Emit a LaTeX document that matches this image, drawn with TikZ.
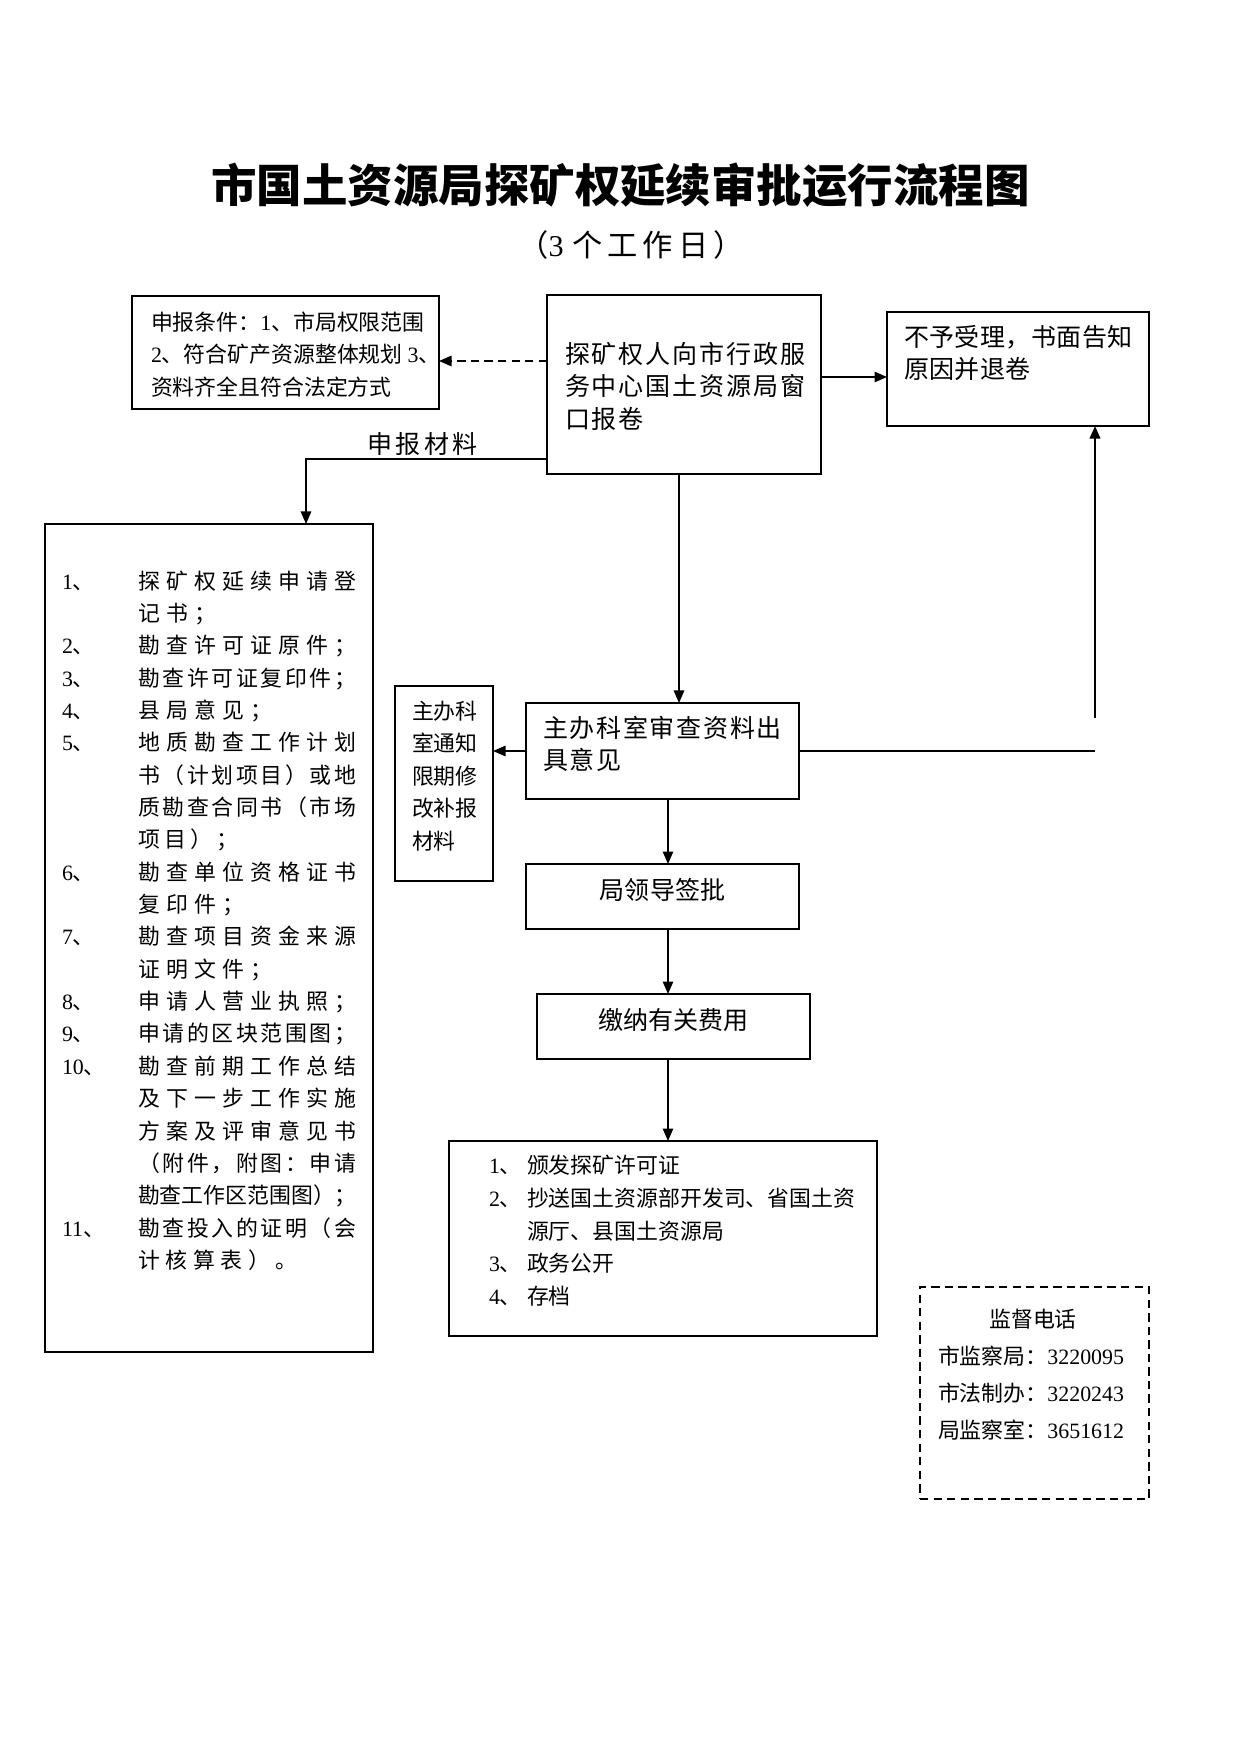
\documentclass[tikz,border=0pt]{standalone}
\usepackage{fontspec}
\setmainfont{Noto Sans CJK SC}
\newfontfamily\latin{Liberation Serif}
\usetikzlibrary{arrows.meta,calc}
\newcommand\dg[1]{{\latin #1}}
\newcommand\lsp[2]{\def\lspitch{#1}\lspA#2\relax}
\def\lspA#1{\ifx\relax#1\else\makebox[\lspitch][l]{#1}\expandafter\lspA\fi}
\newlength\colw \setlength\colw{104.6pt}
\newcommand\jst[1]{\makebox[\colw][s]{\jB#1\relax}}
\def\jB#1{#1\jC}
\def\jC#1{\ifx\relax#1\else\hfil#1\expandafter\jC\fi}
\newcommand\bx[6][]{\node[box,#1,anchor=north west,minimum width={(#5-#3)*0.4797pt},minimum height={(#6-#4)*0.4797pt}] (#2) at (#3,#4) {};}
\tikzset{
 box/.style={draw,line width=0.9pt,inner sep=0pt,outer sep=0pt},
 txt/.style={anchor=base west,inner sep=0pt,outer sep=0pt,font=\fontsize{10.5}{12}\selectfont},
 big/.style={anchor=base west,inner sep=0pt,outer sep=0pt,font=\fontsize{12}{14}\selectfont},
 conn/.style={line width=0.75pt},
 arr/.style={conn,-{Triangle[length=6pt,width=5pt]}},
}
\begin{document}
\begin{tikzpicture}[x=0.4797pt,y=-0.4797pt]
\fill[white] (0,0) rectangle (1241,1754);
\useasboundingbox (0,0) rectangle (1241,1754);

% title
\node[inner sep=0pt,font=\fontsize{21.8}{24}\selectfont\bfseries] (title) at (620.5,185) {市国土资源局探矿权延续审批运行流程图};
\node[inner sep=0pt,anchor=base west,font=\fontsize{14.5}{16}\selectfont] (sub) at (518,256) {（\dg{3}\hspace{4pt}\lsp{17pt}{个工作日}）};

% boxes
\bx{cond}{132}{296}{439}{409}
\bx{main}{547}{295}{821}{474}
\bx{rej}{887}{312}{1149}{426}
\bx{mat}{45}{524}{373}{1352}
\bx{note}{395}{686}{493}{881}
\bx{rev}{526}{703}{799}{799}
\bx{lead}{526}{864}{799}{929}
\bx{fee}{537}{994}{810}{1059}
\bx{fin}{449}{1141}{877}{1336}
\bx[dash pattern=on 4pt off 2.5pt,line width=0.8pt]{sup}{920}{1287}{1149}{1499}

% condition box text
\node[txt] (c1) at (151,330) {申报条件：\dg{1}、市局权限范围};
\node[txt] (c2) at (151,362.5) {\dg{2}、符合矿产资源整体规划 \dg{3}、};
\node[txt] (c3) at (151,395) {资料齐全且符合法定方式};

% main box text
\node[big] (m1) at (565,363) {\lsp{12.95pt}{探矿权人向市行政服}};
\node[big] (m2) at (565,395.5) {\lsp{12.95pt}{务中心国土资源局窗}};
\node[big] (m3) at (565,428) {\lsp{12.95pt}{口报卷}};

% reject box text
\node[big] (r1) at (904,346.5) {\lsp{12.2pt}{不予受理，书面告知}};
\node[big] (r2) at (904,378.5) {\lsp{12.2pt}{原因并退卷}};

% label
\node[big] (lab) at (367,453) {\lsp{13.75pt}{申报材料}};

% materials list
\node[txt] (n1) at (62,589) {\dg{1}、};
\node[txt] (l1) at (138,589) {\jst{探矿权延续申请登}};
\node[txt] (l2) at (138,621.4) {\lsp{13.44pt}{记书；}};
\node[txt] (n3) at (62,653.7) {\dg{2}、};
\node[txt] (l3) at (138,653.7) {\jst{勘查许可证原件；}};
\node[txt] (n4) at (62,686) {\dg{3}、};
\node[txt] (l4) at (138,686) {\jst{勘查许可证复印件；}};
\node[txt] (n5) at (62,718.4) {\dg{4}、};
\node[txt] (l5) at (138,718.4) {\lsp{13.44pt}{县局意见；}};
\node[txt] (n6) at (62,750.8) {\dg{5}、};
\node[txt] (l6) at (138,750.8) {\jst{地质勘查工作计划}};
\node[txt] (l7) at (138,783.1) {\jst{书（计划项目）或地}};
\node[txt] (l8) at (138,815.5) {\jst{质勘查合同书（市场}};
\node[txt] (l9) at (138,847.8) {\lsp{12.6pt}{项目）；}};
\node[txt] (n10) at (62,880.2) {\dg{6}、};
\node[txt] (l10) at (138,880.2) {\jst{勘查单位资格证书}};
\node[txt] (l11) at (138,912.5) {\lsp{13.44pt}{复印件；}};
\node[txt] (n12) at (62,944.9) {\dg{7}、};
\node[txt] (l12) at (138,944.9) {\jst{勘查项目资金来源}};
\node[txt] (l13) at (138,977.2) {\lsp{13.44pt}{证明文件；}};
\node[txt] (n14) at (62,1009.6) {\dg{8}、};
\node[txt] (l14) at (138,1009.6) {\jst{申请人营业执照；}};
\node[txt] (n15) at (62,1041.9) {\dg{9}、};
\node[txt] (l15) at (138,1041.9) {\jst{申请的区块范围图；}};
\node[txt] (n16) at (62,1074.3) {\dg{10}、};
\node[txt] (l16) at (138,1074.3) {\jst{勘查前期工作总结}};
\node[txt] (l17) at (138,1106.6) {\jst{及下一步工作实施}};
\node[txt] (l18) at (138,1139) {\jst{方案及评审意见书}};
\node[txt] (l19) at (138,1171.3) {\jst{（附件，附图：申请}};
\node[txt] (l20) at (138,1203.7) {\jst{勘查工作区范围图）；}};
\node[txt] (n21) at (62,1236) {\dg{11}、};
\node[txt] (l21) at (138,1236) {\jst{勘查投入的证明（会}};
\node[txt] (l22) at (138,1268.4) {\lsp{13.2pt}{计核算表）。}};

% note box text
\node[txt] (o1) at (412,719) {主办科};
\node[txt] (o2) at (412,751.5) {室通知};
\node[txt] (o3) at (412,784) {限期修};
\node[txt] (o4) at (412,816.5) {改补报};
\node[txt] (o5) at (412,849) {材料};

% review box text
\node[big] (v1) at (543,737.5) {\lsp{12.83pt}{主办科室审查资料出}};
\node[big] (v2) at (543,769.5) {\lsp{12.83pt}{具意见}};

% lead, fee
\node[inner sep=0pt,font=\fontsize{12}{14}\selectfont] (leadt) at (662.5,890) {局领导签批};
\node[inner sep=0pt,font=\fontsize{12}{14}\selectfont] (feet) at (673.5,1020) {缴纳有关费用};

% final box text
\node[txt] (fn1) at (489,1173) {\dg{1}、};
\node[txt] (f1) at (527,1173) {颁发探矿许可证};
\node[txt] (fn2) at (489,1206) {\dg{2}、};
\node[txt] (f2) at (527,1206) {抄送国土资源部开发司、省国土资};
\node[txt] (f3) at (527,1239) {源厅、县国土资源局};
\node[txt] (fn4) at (489,1271.5) {\dg{3}、};
\node[txt] (f4) at (527,1271.5) {政务公开};
\node[txt] (fn5) at (489,1304) {\dg{4}、};
\node[txt] (f5) at (527,1304) {存档};

% supervision
\node[inner sep=0pt,font=\fontsize{10.5}{12}\selectfont] (s0) at (1033,1319) {监督电话};
\node[txt] (s1) at (938,1364) {市监察局：\dg{3220095}};
\node[txt] (s2) at (938,1401.5) {市法制办：\dg{3220243}};
\node[txt] (s3) at (938,1438.5) {局监察室：\dg{3651612}};

% connectors
\coordinate (yA) at (0,361);
\draw[arr,dash pattern=on 4pt off 2.5pt] (main.west |- yA) -- (cond.east |- yA);
\coordinate (yB) at (0,377);
\draw[arr] (main.east |- yB) -- (rej.west |- yB);
\coordinate (cC) at (306,459);
\draw[arr] (main.west |- cC) -| (mat.north -| cC);
\coordinate (xD) at (679,0);
\draw[arr] (main.south -| xD) -- (rev.north -| xD);
\draw[arr] (rev.west) -- (note.east |- rev.west);
\coordinate (j1) at (1095,751);
\coordinate (j2) at (1095,718);
\draw[conn,line width=1pt] (rev.east) -- (j1);
\draw[arr,line width=1.1pt] (j2) -- (rej.south -| j2);
\coordinate (xE) at (668,0);
\draw[arr] (rev.south -| xE) -- (lead.north -| xE);
\draw[arr] (lead.south -| xE) -- (fee.north -| xE);
\draw[arr] (fee.south -| xE) -- (fin.north -| xE);
\end{tikzpicture}
\end{document}
